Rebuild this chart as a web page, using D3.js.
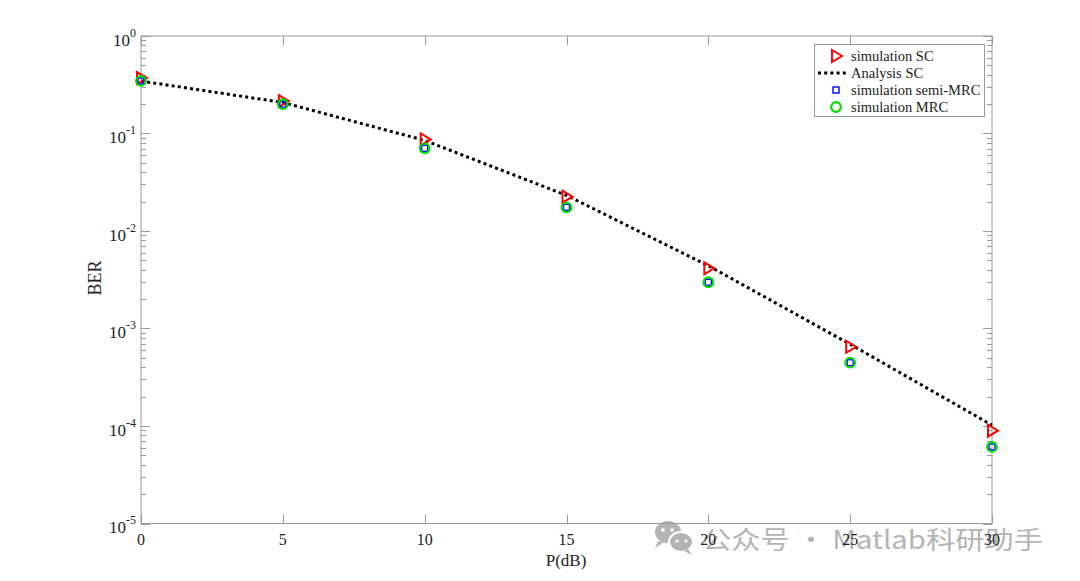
<!DOCTYPE html>
<html><head><meta charset="utf-8">
<script src="https://cdn.jsdelivr.net/npm/d3@7"></script>
<style>body{margin:0;background:#fff}svg{display:block}</style>
</head><body>
<svg id="c" width="1080" height="581"></svg>
<script>
const snr = [0, 5, 10, 15, 20, 25, 30];
const simSC = [0.37, 0.215, 0.087, 0.0225, 0.00414, 0.00065, 0.0000895];
const anaSC = [0.345, 0.208, 0.085, 0.0232, 0.0044, 0.00069, 0.000102];
const simSemiMRC = [0.346, 0.20, 0.0705, 0.0175, 0.00298, 0.000446, 0.000061];
const simMRC = [0.346, 0.20, 0.0705, 0.0175, 0.00298, 0.000446, 0.000061];
const xTicks = [0, 5, 10, 15, 20, 25, 30];
const yExps = [0, -1, -2, -3, -4, -5];
const legendLabels = ["simulation SC", "Analysis SC", "simulation semi-MRC", "simulation MRC"];

const svg = d3.select("#c");
const L = 141, R = 992, T = 36, B = 523.5;
const x = d3.scaleLinear().domain([0, 30]).range([L, R]);
const y = d3.scaleLog().domain([1e-5, 1]).range([B, T]);
const axisCol = "#9a9a9a";
const serif = "'Liberation Serif','Times New Roman',serif";

// watermark (behind)
const wm = svg.append("g").attr("fill", "#b4b4b4");
wm.append("ellipse").attr("cx", 668).attr("cy", 532).attr("rx", 13).attr("ry", 11);
wm.append("path").attr("d", "M658,541 L655,548 L664,542 Z");
wm.append("ellipse").attr("cx", 681).attr("cy", 542).attr("rx", 12).attr("ry", 10).attr("stroke", "#fff").attr("stroke-width", 2);
wm.append("path").attr("d", "M688,549 L692,555 L684,551 Z");
[[663,530],[672,530]].forEach(p=>wm.append("circle").attr("cx",p[0]).attr("cy",p[1]).attr("r",1.8).attr("fill","#fff"));
[[677,541],[686,541]].forEach(p=>wm.append("circle").attr("cx",p[0]).attr("cy",p[1]).attr("r",1.6).attr("fill","#fff"));
wm.append("text").attr("x", 702).attr("y", 549).attr("font-family", "'Noto Sans CJK SC',sans-serif")
  .attr("font-size", 25).attr("textLength", 341).attr("lengthAdjust", "spacingAndGlyphs").text("公众号 · Matlab科研助手");

// axes box
const g = svg.append("g");
g.append("rect").attr("x", L).attr("y", T).attr("width", R - L).attr("height", B - T)
  .attr("fill", "none").attr("stroke", axisCol).attr("stroke-width", 1);

// x ticks
xTicks.forEach(t => {
  const px = Math.round(x(t)) + 0.5;
  g.append("line").attr("x1", px).attr("x2", px).attr("y1", B).attr("y2", B - 9).attr("stroke", axisCol);
  g.append("line").attr("x1", px).attr("x2", px).attr("y1", T).attr("y2", T + 9).attr("stroke", axisCol);
  svg.append("text").attr("x", x(t)).attr("y", 544.5).attr("text-anchor", "middle")
    .attr("font-family", serif).attr("font-size", 16).attr("fill", "#222").text(t);
});

// y ticks: major + minor
yExps.forEach(e => {
  const py = Math.round(y(Math.pow(10, e))) + 0.5;
  g.append("line").attr("x1", L).attr("x2", L + 9).attr("y1", py).attr("y2", py).attr("stroke", axisCol);
  g.append("line").attr("x1", R).attr("x2", R - 9).attr("y1", py).attr("y2", py).attr("stroke", axisCol);
  const tx = svg.append("text").attr("x", 136).attr("y", y(Math.pow(10, e)) + 9.5).attr("text-anchor", "end")
    .attr("font-family", serif).attr("fill", "#222");
  tx.append("tspan").attr("font-size", 17).text("10");
  tx.append("tspan").attr("font-size", 12).attr("dy", -9).text(e === 0 ? "0" : "-" + (-e));
  if (e > -5) {
    for (let m = 2; m <= 9; m++) {
      const v = m * Math.pow(10, e - 1);
      const pm = Math.round(y(v)) + 0.5;
      g.append("line").attr("x1", L).attr("x2", L + 5).attr("y1", pm).attr("y2", pm).attr("stroke", axisCol);
      g.append("line").attr("x1", R).attr("x2", R - 5).attr("y1", pm).attr("y2", pm).attr("stroke", axisCol);
    }
  }
});

// labels
svg.append("text").attr("x", 566).attr("y", 566).attr("text-anchor", "middle")
  .attr("font-family", serif).attr("font-size", 17).attr("fill", "#222").text("P(dB)");
svg.append("text").attr("transform", "translate(101,278) rotate(-90)").attr("text-anchor", "middle")
  .attr("font-family", serif).attr("font-size", 18).attr("fill", "#222").text("BER");

// analysis line
const line = d3.line().x((d, i) => x(snr[i])).y(d => y(d));
svg.append("path").datum(anaSC).attr("d", line).attr("fill", "none").attr("stroke", "#000")
  .attr("stroke-width", 3).attr("stroke-dasharray", "3,3.2");

// markers
function tri(sel) {
  sel.append("path").attr("d", "M-4,-6 L6,0 L-4,6 Z").attr("fill", "none").attr("stroke", "#f00").attr("stroke-width", 2);
}
function circ(sel) {
  sel.append("circle").attr("r", 4.8).attr("fill", "none").attr("stroke", "#00e000").attr("stroke-width", 2.2);
}
function sq(sel) {
  sel.append("rect").attr("x", -3).attr("y", -3).attr("width", 6).attr("height", 6).attr("fill", "none").attr("stroke", "#0000ff").attr("stroke-width", 1.4);
}
simSC.forEach((v, i) => tri(svg.append("g").attr("transform", `translate(${x(snr[i])},${y(v)})`)));
simSemiMRC.forEach((v, i) => sq(svg.append("g").attr("transform", `translate(${x(snr[i])},${y(v)})`)));
simMRC.forEach((v, i) => circ(svg.append("g").attr("transform", `translate(${x(snr[i])},${y(v)})`)));

// legend
const lg = svg.append("g");
lg.append("rect").attr("x", 814.5).attr("y", 44.5).attr("width", 170).attr("height", 72)
  .attr("fill", "#fff").attr("stroke", axisCol);
const ly = [56, 73, 90, 107];
legendLabels.forEach((t, i) => {
  lg.append("text").attr("x", 851).attr("y", ly[i] + 5).attr("font-family", serif).attr("font-size", 14.5)
    .attr("fill", "#222").text(t);
});
tri(lg.append("g").attr("transform", `translate(836,${ly[0]})`));
lg.append("line").attr("x1", 818).attr("x2", 849).attr("y1", ly[1]).attr("y2", ly[1]).attr("stroke", "#000")
  .attr("stroke-width", 3).attr("stroke-dasharray", "3,3.2");
sq(lg.append("g").attr("transform", `translate(836,${ly[2]})`));
circ(lg.append("g").attr("transform", `translate(836,${ly[3]})`));
</script>
</body></html>
